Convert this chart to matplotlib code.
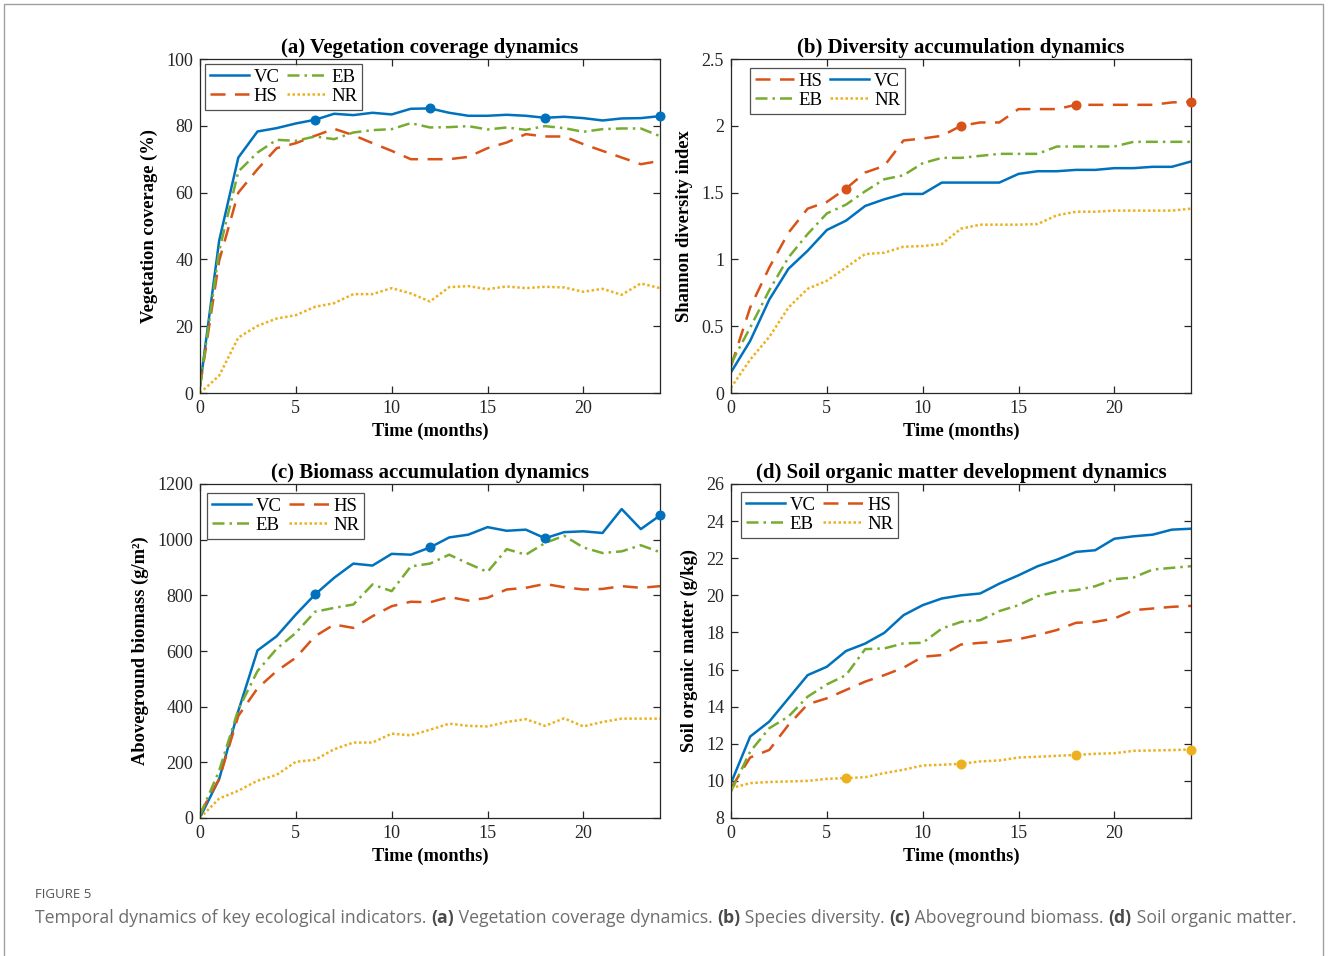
import numpy as np
import matplotlib
matplotlib.use('Agg')
import matplotlib.pyplot as plt
from matplotlib.patches import Rectangle

# months 0..24
months = np.arange(25)

# (a) vegetation coverage (%)
cov_vc = [2, 45.6, 70.5, 78.3, 79.3, 80.7, 81.8, 83.6, 83.2, 83.9, 83.4, 85.1, 85.2,
          83.9, 83.0, 83.0, 83.3, 83.0, 82.4, 82.7, 82.3, 81.6, 82.2, 82.3, 82.9]
cov_hs = [2, 39.6, 60.0, 67.0, 73.3, 74.8, 77.0, 79.1, 77.2, 74.8, 72.5, 70.0, 70.0,
          70.0, 70.7, 73.3, 75.0, 77.5, 76.8, 76.8, 74.5, 72.5, 70.5, 68.5, 69.5]
cov_eb = [2, 42.6, 66.3, 72.0, 75.8, 75.5, 76.8, 76.0, 78.0, 78.7, 79.0, 80.8, 79.5,
          79.6, 79.9, 78.9, 79.5, 78.8, 79.9, 79.3, 78.2, 79.0, 79.2, 79.2, 76.9]
cov_nr = [0, 5.2, 16.6, 20.1, 22.3, 23.3, 25.8, 26.9, 29.6, 29.6, 31.4, 29.8, 27.4,
          31.7, 32.0, 31.1, 31.9, 31.4, 31.8, 31.6, 30.3, 31.2, 29.4, 32.8, 31.4]

# (b) Shannon diversity index
div_vc = [0.155, 0.39, 0.70, 0.93, 1.065, 1.22, 1.29, 1.40, 1.45, 1.49, 1.49, 1.575, 1.575,
          1.575, 1.575, 1.64, 1.66, 1.66, 1.67, 1.67, 1.683, 1.683, 1.693, 1.693, 1.733]
div_hs = [0.20, 0.64, 0.94, 1.20, 1.38, 1.43, 1.53, 1.65, 1.70, 1.89, 1.905, 1.925, 2.00,
          2.025, 2.025, 2.125, 2.125, 2.125, 2.157, 2.157, 2.157, 2.157, 2.157, 2.175, 2.18]
div_eb = [0.22, 0.49, 0.77, 1.015, 1.19, 1.344, 1.41, 1.51, 1.60, 1.63, 1.72, 1.76, 1.76,
          1.775, 1.79, 1.79, 1.79, 1.845, 1.845, 1.845, 1.845, 1.88, 1.88, 1.88, 1.88]
div_nr = [0.04, 0.25, 0.42, 0.64, 0.78, 0.84, 0.94, 1.04, 1.05, 1.095, 1.10, 1.115, 1.23,
          1.26, 1.26, 1.26, 1.265, 1.33, 1.357, 1.357, 1.365, 1.365, 1.365, 1.365, 1.38]

# (c) aboveground biomass (g/m2)
bio_vc = [2, 140, 385, 602, 653, 731, 803, 863, 914, 907, 949, 946, 972,
          1008, 1018, 1045, 1032, 1036, 1005, 1027, 1030, 1024, 1110, 1038, 1087]
bio_hs = [15, 140, 367, 466, 528, 576, 653, 695, 683, 725, 761, 777, 775,
          794, 781, 791, 821, 827, 841, 829, 821, 823, 833, 827, 833]
bio_eb = [10, 170, 390, 528, 608, 665, 741, 755, 767, 839, 815, 904, 914,
          946, 914, 884, 966, 946, 988, 1014, 972, 952, 958, 980, 955]
bio_nr = [0, 70, 98, 134, 155, 202, 209, 247, 271, 271, 303, 297, 317,
          339, 331, 329, 345, 355, 331, 358, 329, 345, 357, 357, 357]

# (d) soil organic matter (g/kg)
som_vc = [9.88, 12.39, 13.2, 14.45, 15.7, 16.15, 17.0, 17.4, 17.98, 18.93, 19.47, 19.83, 20.0,
          20.1, 20.63, 21.08, 21.57, 21.92, 22.34, 22.43, 23.05, 23.18, 23.27, 23.54, 23.59]
som_hs = [9.6, 11.26, 11.67, 13.02, 14.13, 14.45, 14.9, 15.35, 15.7, 16.1, 16.69, 16.78, 17.35,
          17.44, 17.5, 17.64, 17.86, 18.13, 18.52, 18.57, 18.75, 19.2, 19.29, 19.38, 19.43]
som_eb = [9.43, 11.58, 12.84, 13.47, 14.54, 15.2, 15.7, 17.1, 17.14, 17.41, 17.44, 18.21, 18.57,
          18.66, 19.15, 19.47, 19.95, 20.19, 20.28, 20.49, 20.87, 20.96, 21.39, 21.48, 21.57]
som_nr = [9.61, 9.88, 9.94, 9.97, 10.0, 10.11, 10.15, 10.2, 10.42, 10.6, 10.83, 10.87, 10.92,
          11.05, 11.1, 11.26, 11.3, 11.35, 11.4, 11.46, 11.49, 11.62, 11.64, 11.66, 11.69]

mark_months = [6, 12, 18, 24]

colors = {'VC': '#0072BD', 'HS': '#D95319', 'EB': '#77AC30', 'NR': '#EDB120'}
dashes = {'VC': None, 'HS': (6.0, 3.8), 'EB': (4.8, 2.0, 1.0, 2.0), 'NR': (1.0, 1.0)}

plt.rcParams['font.family'] = ['Liberation Serif', 'DejaVu Serif']
plt.rcParams['font.size'] = 13
plt.rcParams['axes.edgecolor'] = '#262626'
plt.rcParams['axes.linewidth'] = 0.9
plt.rcParams['xtick.color'] = '#262626'
plt.rcParams['ytick.color'] = '#262626'

fig = plt.figure(figsize=(13.28, 9.56), dpi=100)

# thin frame around the whole figure
fig.patches.append(Rectangle((4 / 1328, -0.01), 1319 / 1328, 1 - 4 / 956 + 0.01,
                             transform=fig.transFigure, fill=False,
                             edgecolor='#a0a0a0', linewidth=1.0))

W, H = 460 / 1328, 334 / 956
panels = [
    dict(pos=(200 / 1328, 1 - 393 / 956, W, H), title='(a) Vegetation coverage dynamics',
         ylabel='Vegetation coverage (%)', ylim=(0, 100), yticks=np.arange(0, 101, 20),
         series={'VC': cov_vc, 'HS': cov_hs, 'EB': cov_eb, 'NR': cov_nr},
         order=['VC', 'HS', 'EB', 'NR'], marked='VC', leg=(0.011, 0.985)),
    dict(pos=(731 / 1328, 1 - 393 / 956, W, H), title='(b) Diversity accumulation dynamics',
         ylabel='Shannon diversity index', ylim=(0, 2.5), yticks=np.arange(0, 2.51, 0.5),
         series={'VC': div_vc, 'HS': div_hs, 'EB': div_eb, 'NR': div_nr},
         order=['HS', 'EB', 'VC', 'NR'], marked='HS', leg=(0.041, 0.973)),
    dict(pos=(200 / 1328, 1 - 818 / 956, W, H), title='(c) Biomass accumulation dynamics',
         ylabel='Aboveground biomass (g/m²)', ylim=(0, 1200), yticks=np.arange(0, 1201, 200),
         series={'VC': bio_vc, 'HS': bio_hs, 'EB': bio_eb, 'NR': bio_nr},
         order=['VC', 'EB', 'HS', 'NR'], marked='VC', leg=(0.015, 0.973)),
    dict(pos=(731 / 1328, 1 - 818 / 956, W, H), title='(d) Soil organic matter development dynamics',
         ylabel='Soil organic matter (g/kg)', ylim=(8, 26), yticks=np.arange(8, 27, 2),
         series={'VC': som_vc, 'HS': som_hs, 'EB': som_eb, 'NR': som_nr},
         order=['VC', 'EB', 'HS', 'NR'], marked='NR', leg=(0.022, 0.976)),
]

for p in panels:
    ax = fig.add_axes(p['pos'])
    handles = {}
    for name in ['VC', 'HS', 'EB', 'NR']:
        y = p['series'][name]
        ln, = ax.plot(months, y, color=colors[name], lw=1.8, label=name)
        if dashes[name] is not None:
            ln.set_dashes(dashes[name])
        handles[name] = ln
        if name == p['marked']:
            ym = [y[m] for m in mark_months]
            ax.plot(mark_months, ym, 'o', color=colors[name], markersize=6.2,
                    clip_on=False, zorder=5)
    ax.set_xlim(0, 24)
    ax.set_ylim(*p['ylim'])
    ax.set_xticks([0, 5, 10, 15, 20])
    ax.set_yticks(p['yticks'])
    ax.set_yticklabels(['%g' % v for v in p['yticks']])
    ax.tick_params(direction='in', top=True, right=True, length=5, width=0.9,
                   labelsize=13, labelcolor='#262626', pad=5)
    ax.set_title(p['title'], fontsize=15, fontweight='bold', pad=4)
    ax.set_xlabel('Time (months)', fontsize=13.3, fontweight='bold', labelpad=4)
    ax.set_ylabel(p['ylabel'], fontsize=13.3, fontweight='bold', labelpad=6)
    leg = ax.legend([handles[n] for n in p['order']], p['order'], ncol=2,
                    loc='upper left', bbox_to_anchor=p['leg'], borderaxespad=0,
                    fontsize=13.5, frameon=True, fancybox=False, edgecolor='#262626',
                    handlelength=2.1, handletextpad=0.25, columnspacing=0.4,
                    labelspacing=0.1, borderpad=0.25)
    leg.get_frame().set_linewidth(0.9)

# caption
cap_font = ['Open Sans', 'DejaVu Sans']
cap_y = 1 - 918 / 956
fig.text(35 / 1328, 1 - 895 / 956, 'FIGURE 5', fontsize=9.5, color='#555555',
         family=cap_font, va='center')
pieces = [('Temporal dynamics of key ecological indicators. ', 'normal'),
          ('(a)', 'bold'), (' Vegetation coverage dynamics. ', 'normal'),
          ('(b)', 'bold'), (' Species diversity. ', 'normal'),
          ('(c)', 'bold'), (' Aboveground biomass. ', 'normal'),
          ('(d)', 'bold'), (' Soil organic matter.', 'normal')]
cap_texts = []
for txt, wt in pieces:
    t = fig.text(0, cap_y, txt, fontsize=12.7, color='#4a4a4a' if wt == 'bold' else '#6e6e6e',
                 family=cap_font, fontweight=wt, va='center')
    cap_texts.append(t)
fig.canvas.draw()
r = fig.canvas.get_renderer()
x = 35
for t in cap_texts:
    t.set_position((x / 1328, cap_y))
    x += t.get_window_extent(r).width

fig.savefig('out.png', dpi=100)
